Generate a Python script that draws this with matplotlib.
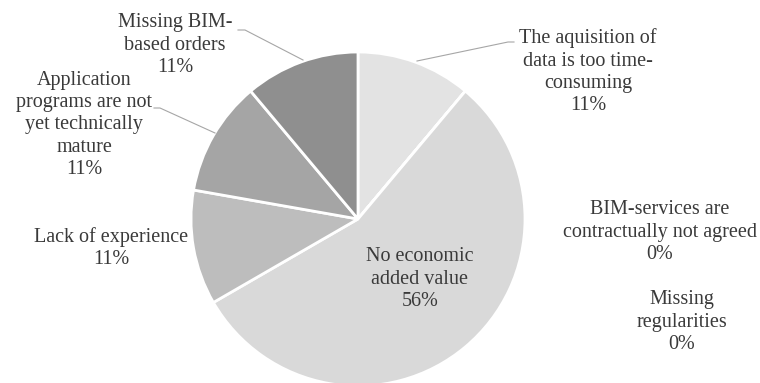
import matplotlib.pyplot as plt

# clockwise from 12 o'clock
labels = ['The aquisition of\ndata is too time-\nconsuming',
          'BIM-services are\ncontractually not agreed',
          'Missing\nregularities',
          'No economic\nadded value',
          'Lack of experience',
          'Application\nprograms are not\nyet technically\nmature',
          'Missing BIM-\nbased orders']
counts = [1, 0, 0, 5, 1, 1, 1]
colors = ['#e3e3e3', '#d0d0d0', '#c8c8c8', '#d9d9d9', '#bdbdbd', '#a5a5a5', '#8f8f8f']

# label centres in pixel coords of the 760x383 picture
label_pos = [(588, 72), (660, 232), (682, 322), (420, 279), (111, 248), (84, 125), (175, 45)]
# leader lines (pixel points), None where there is no line
leaders = [[(514, 42), (508, 42), (417, 61)],
           None, None, None, None,
           [(154, 108), (160, 108), (215, 133)],
           [(238, 30), (245, 30), (303, 60)]]

W, H = 760, 383
cx, cy, R = 358, 219, 167


def px(p):
    return (p[0] - cx) / R, (cy - p[1]) / R


plt.rcParams['font.family'] = ['Liberation Serif', 'DejaVu Serif']

fig = plt.figure(figsize=(W / 100, H / 100), dpi=100)
ax = fig.add_axes([0, 0, 1, 1])
ax.pie(counts, colors=colors, startangle=90, counterclock=False, radius=1,
       wedgeprops=dict(edgecolor='white', linewidth=2))
ax.set_xlim((0 - cx) / R, (W - cx) / R)
ax.set_ylim((cy - H) / R, cy / R)
ax.set_aspect('equal')
ax.axis('off')

total = sum(counts)
for i, name in enumerate(labels):
    pct = round(counts[i] / total * 100)
    x, y = px(label_pos[i])
    ax.text(x, y, f'{name}\n{pct}%', ha='center', va='center', fontsize=14.5,
            color='#3a3a3a', linespacing=1.24)
    if leaders[i] is not None:
        pts = [px(p) for p in leaders[i]]
        ax.plot([p[0] for p in pts], [p[1] for p in pts], color='#a6a6a6', lw=0.8)

fig.savefig('out.png', dpi=100)
